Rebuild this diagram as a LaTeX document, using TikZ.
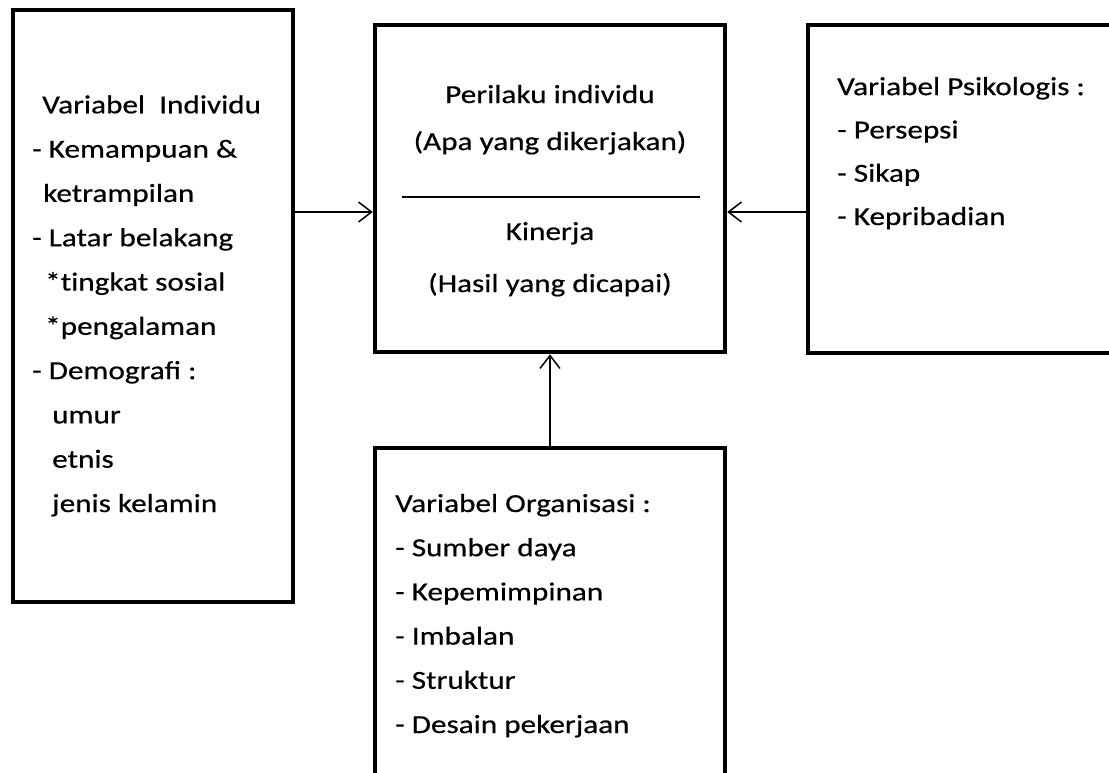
\documentclass[tikz,border=0pt]{standalone}
\usepackage{fontspec}
\setmainfont{Carlito}[FakeStretch=1.2,FakeBold=0.5]
\usetikzlibrary{arrows.meta}
\begin{document}
\begin{tikzpicture}[x=1pt,y=-1pt,
  box/.style={draw=black, line width=4.5pt, rectangle, inner sep=0pt},
  conn/.style={line width=1.5pt, -{Straight Barb[length=13pt,width=20pt,line width=1.5pt]}},
  txt/.style={inner sep=0pt, align=left, font=\fontsize{26}{44.3}\selectfont, anchor=base west},
  ctxt/.style={inner sep=0pt, font=\fontsize{26}{44}\selectfont, anchor=base}]
\useasboundingbox (0,0) rectangle (1109,772);
\clip (0,0) rectangle (1109,772);
\fill[white] (0,0) rectangle (1109,772);
% boxes
\node[box, minimum width=280pt, minimum height=592pt] (L) at (153,306) {};
\node[box, minimum width=350pt, minimum height=327pt] (C) at (550,188.5) {};
\node[box, minimum width=312pt, minimum height=328pt] (R) at (964,189) {};
\node[box, minimum width=350pt, minimum height=332pt] (B) at (550,614) {};
% left text (anchor at the baseline of the last line)
\node[txt] (Lt) at (32,512) {\hspace*{10pt}Variabel\ \ Individu\\
- Kemampuan \&\\
\hspace*{11pt}ketrampilan\\
- Latar belakang\\
\hspace*{13pt}*t\kern0pt ingkat sosial\\
\hspace*{13pt}*pengalaman\\
- Demografi :\\
\hspace*{20pt}umur\\
\hspace*{20pt}etnis\\
\hspace*{20pt}jenis kelamin};
% center text
\node[ctxt] (C1) at (550,103) {Perilaku individu};
\node[ctxt] (C2) at (550,150) {(Apa yang dikerjakan)};
\node[ctxt] (C3) at (550,240) {Kinerja};
\node[ctxt] (C4) at (550,292) {(Hasil yang dicapai)};
\draw[line width=1.5pt] (402,197) -- (700,197);
% right text
\node[txt, font=\fontsize{26}{43.3}\selectfont] (Rt) at (837,225) {Variabel Psikologis :\\
- Persepsi\\
- Sikap\\
- Kepribadian};
% bottom text
\node[txt, font=\fontsize{26}{44.2}\selectfont] (Bt) at (395,733) {Variabel Organisasi :\\
- Sumber daya\\
- Kepemimpinan\\
- Imbalan\\
- Struktur\\
- Desain pekerjaan};
% connectors
\coordinate (ay) at (0,212);
\draw[conn] (L.east |- ay) -- (C.west |- ay);
\draw[conn] (R.west |- ay) -- (C.east |- ay);
\draw[conn] (B.north) -- (C.south);
\end{tikzpicture}
\end{document}
